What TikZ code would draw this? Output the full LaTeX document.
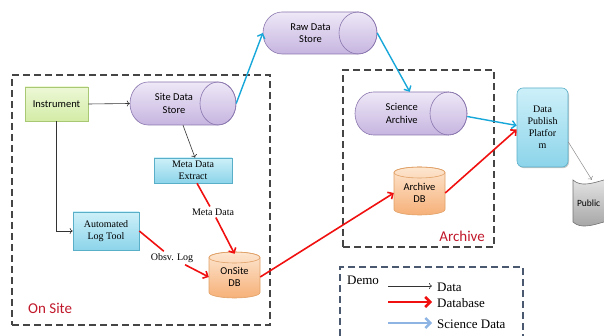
\documentclass[tikz,border=0pt]{standalone}
\usepackage{fontspec}
\setmainfont{Liberation Serif}
\newfontfamily\calfont{Carlito}
\usetikzlibrary{shapes.geometric,arrows.meta,calc,shadows}
\definecolor{cyltop}{HTML}{EEE8F7}
\definecolor{cylbot}{HTML}{C6B5E0}
\definecolor{cylline}{HTML}{8A76AE}
\definecolor{ortop}{HTML}{FDE6D0}
\definecolor{orbot}{HTML}{F6B078}
\definecolor{orline}{HTML}{E0A066}
\definecolor{cytop}{HTML}{CDF0F9}
\definecolor{cybot}{HTML}{8CD4EA}
\definecolor{cyline}{HTML}{5AAFC8}
\definecolor{grtop}{HTML}{EDF8D6}
\definecolor{grbot}{HTML}{D3ECA6}
\definecolor{grline}{HTML}{A9C873}
\definecolor{dashgray}{HTML}{454545}
\definecolor{legline}{HTML}{4A5870}
\definecolor{sciblue}{HTML}{17A7D9}
\definecolor{legblue}{HTML}{8DB4E2}
\definecolor{labred}{HTML}{C0182A}
\definecolor{dbred}{HTML}{F01010}
% horizontal cylinder: name, left x, centre y (down), width, height, cap x radius, text
\newcommand\hcylinder[7]{%
  \path[hcylshape] ({#2+#6},{-(#3)+(#5)/2}) arc[start angle=90, end angle=270, x radius=#6, y radius={(#5)/2}]
    -- ({#2+#4-#6},{-(#3)-(#5)/2}) arc[start angle=-90, end angle=90, x radius=#6, y radius={(#5)/2}] -- cycle;
  \draw[hcylline] ({#2+#4-#6},{-(#3)}) ellipse[x radius=#6, y radius={(#5)/2}];
  \node[hcyltext, minimum width={#4-#6}, minimum height=#5] (#1) at ({#2+(#4-#6)/2},{-(#3)}) {#7};
}
% vertical cylinder: name, centre x, centre y (down), width, height, ellipse y radius, text
\newcommand\vcylinder[7]{%
  \path[vcylshape] ({#2-(#4)/2},{-(#3)+(#5)/2-#6}) -- ({#2-(#4)/2},{-(#3)-(#5)/2+#6})
    arc[start angle=180, end angle=360, x radius={(#4)/2}, y radius=#6]
    -- ({#2+(#4)/2},{-(#3)+(#5)/2-#6})
    arc[start angle=0, end angle=180, x radius={(#4)/2}, y radius=#6] -- cycle;
  \draw[vcylline] ({#2},{-(#3)+(#5)/2-#6}) ellipse[x radius={(#4)/2}, y radius=#6];
  \node[vcyltext, minimum width=#4, minimum height=#5] (#1) at ({#2},{-(#3)-2}) {#7};
}
\begin{document}
\begin{tikzpicture}[x=1pt,y=1pt,
  sansnode/.style={font=\calfont\fontsize{10.5}{12.5}\selectfont, align=center},
  serifnode/.style={font=\fontsize{10}{11.5}\selectfont, align=center},
  softshadow/.style={drop shadow={shadow xshift=1pt, shadow yshift=-1.2pt, opacity=0.22, fill=black}},
  hcylshape/.style={draw=cylline, line width=0.6pt, top color=cyltop, bottom color=cylbot},
  hcylline/.style={draw=cylline, line width=0.6pt},
  hcyltext/.style={rectangle, sansnode, inner sep=0pt},
  vcylshape/.style={draw=orline, line width=0.6pt, top color=ortop, bottom color=orbot},
  vcylline/.style={draw=orline, line width=0.6pt},
  vcyltext/.style={rectangle, sansnode, inner sep=0pt},
  cybox/.style={rectangle, draw=cyline, line width=0.6pt, top color=cytop, bottom color=cybot, serifnode, inner sep=0pt, softshadow},
  region/.style={rectangle, draw=dashgray, line width=1.3pt, dash pattern=on 7pt off 4pt, inner sep=0pt},
  regionlabel/.style={font=\calfont\fontsize{15}{17}\selectfont, text=labred, inner sep=0pt},
  dataarrow/.style={draw=black!80, line width=0.6pt, -{To[length=3pt,width=6pt]}},
  dbline/.style={draw=dbred, line width=1.6pt},
  dbarrow/.style={dbline, -{Straight Barb[length=4pt,width=8pt]}},
  sciarrow/.style={draw=sciblue, line width=1.4pt, -{Straight Barb[length=4pt,width=8pt]}},
  lbl/.style={serifnode, fill=white, inner sep=2pt},
  legtext/.style={font=\fontsize{13}{15}\selectfont, anchor=west, inner sep=0pt}
]
\useasboundingbox (0,0) rectangle (604,-336);

% regions
\node[region, minimum width=258, minimum height=250] (onsite) at (141,-200) {};
\node[regionlabel, anchor=west] (onsitelbl) at (28,-308) {On Site};
\node[region, minimum width=151, minimum height=177] (archive) at (418.5,-158.5) {};
\node[regionlabel, anchor=east] (archivelbl) at (485,-236) {Archive};
\node[region, draw=legline, minimum width=183, minimum height=78] (legend) at (431.5,-306) {};

% nodes
\node[rectangle, draw=grline, line width=0.6pt, top color=grtop, bottom color=grbot, sansnode, minimum width=63, minimum height=34, inner sep=0pt, softshadow] (inst) at (56.5,-104) {Instrument};
\hcylinder{sds}{130}{103.5}{106}{43}{18}{Site Data\\Store}
\hcylinder{raw}{263}{33}{114}{42}{19}{Raw Data\\Store}
\hcylinder{sa}{355}{113.5}{112}{43}{18.5}{Science\\Archive}
\node[cybox, minimum width=78, minimum height=25] (mde) at (193,-170.5) {Meta Data\\Extract};
\node[cybox, minimum width=66, minimum height=38] (alt) at (106,-231) {Automated\\Log Tool};
\vcylinder{odb}{234.5}{275}{51}{46}{5.5}{OnSite\\DB}
\vcylinder{adb}{419.5}{191}{51}{48}{5.5}{Archive\\DB}
\node[cybox, rounded corners=6pt, minimum width=51, minimum height=79, font=\fontsize{10}{12}\selectfont] (dpp) at (542.5,-127.5) {Data\\Publish\\Platfor\\m};
% Public (punched tape), cut by the right edge
\path[draw=black!55, line width=0.6pt, top color=black!4, bottom color=black!40]
  (573,-180) .. controls (588,-194) and (618,-166) .. (640,-180) -- (640,-222)
  .. controls (618,-208) and (588,-236) .. (573,-222) -- cycle;
\node[rectangle, minimum width=67, minimum height=47, text width=59pt, inner xsep=4pt, inner ysep=0pt, align=left, font=\calfont\fontsize{9.5}{11}\selectfont] (pub) at (606.5,-203.5) {Public};

% labels on connectors
\node[lbl] (md) at (213,-212) {Meta Data};
\node[lbl] (ol) at (172,-258) {Obsv. Log};

% data connectors
\draw[dataarrow] (inst.east) -- (sds.west);
\draw[dataarrow] ([xshift=9pt]sds.south) -- ([xshift=2pt]mde.north);
\draw[dataarrow] (inst.south) |- (alt.west);
\draw[draw=black!45, line width=0.5pt, -{To[length=3pt,width=6pt]}] ([yshift=-14.5pt]dpp.east) -- (pub);

% science data
\draw[sciarrow] ([xshift=18pt]sds.east) -- (raw.west);
\draw[sciarrow] ([xshift=19pt]raw.east) -- ([xshift=8pt]sa.north);
\draw[sciarrow] ([xshift=18.5pt,yshift=-3pt]sa.east) -- ([yshift=2pt]dpp.west);

% database
\draw[dbline] ([xshift=4pt]mde.south) -- (md);
\draw[dbarrow] (md) -- (odb.north);
\draw[dbline] (alt.east) -- (ol);
\draw[dbarrow] (ol) -- (odb.west);
\draw[dbarrow] (odb.east) -- (adb.west);
\draw[dbarrow] (adb.east) -- ([yshift=-2pt]dpp.west);

% legend
\node[legtext] (demo) at (347,-280) {Demo};
\node[legtext] (ldata) at (437,-287) {Data};
\node[legtext] (ldb) at (437,-303) {Database};
\node[legtext] (lsci) at (437,-324) {Science Data};
\coordinate (la) at (388,-286);
\coordinate (lb) at (388,-302);
\coordinate (lc) at (388,-323);
\draw[dataarrow] (la) -- ([xshift=-5pt]la -| ldata.west);
\draw[draw=dbred, line width=2.6pt, -{Straight Barb[length=5pt,width=10pt]}] (lb) -- ([xshift=-5pt]lb -| ldb.west);
\draw[draw=legblue, line width=2.4pt, -{Straight Barb[length=5pt,width=10pt]}] (lc) -- ([xshift=-5pt]lc -| lsci.west);
\end{tikzpicture}
\end{document}
